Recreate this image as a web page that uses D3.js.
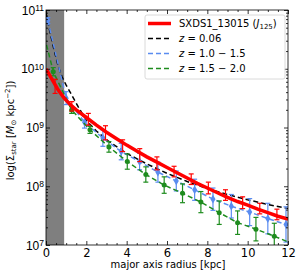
<!DOCTYPE html>
<html><head><meta charset="utf-8">
<script src="https://cdn.jsdelivr.net/npm/d3@7"></script>
<style>
body{margin:0;background:#fff;}
svg{font-family:"DejaVu Sans",sans-serif;}
</style></head>
<body><svg id="c" width="302" height="276"></svg>
<script>
// ---- data (log10 Sigma_star) ----
const xTicks = [0,2,4,6,8,10,12];
const yTickExps = [7,8,9,10,11];
const maskR = 0.9;

const redModelR = [0,0.3,0.6,0.9,1.2,1.5,2.0,2.5,3.0,3.5,4.0,4.5,5.0,5.5,6.0,6.5,7.0,7.5,8.0,8.5,9.0,9.5,10,10.5,11,11.5,12];
const redModelV = [10.0,9.82,9.64,9.50,9.39,9.30,9.17,9.04,8.92,8.81,8.70,8.60,8.50,8.41,8.32,8.23,8.14,8.05,7.97,7.89,7.81,7.74,7.68,7.61,7.55,7.49,7.44];

const redR   = [0.45,1.28,2.1,2.95,3.8,4.65,5.5,6.35,7.2,8.05,8.9,9.75,10.6,11.45];
const redV   = [9.70,9.36,9.14,8.91,8.69,8.53,8.39,8.25,8.12,7.97,7.85,7.72,7.62,7.52];
const redErr = [0.12,0.08,0.10,0.12,0.10,0.11,0.11,0.09,0.09,0.10,0.09,0.10,0.09,0.09];

const blackR = [0,0.2,0.4,0.6,0.8,1.0,1.25,1.6,2.0,2.5,3.0,4.0,5.0,6.0,7.0,8.0,9.0,10,11,12];
const blackV = [10.95,10.62,10.32,10.05,9.86,9.72,9.57,9.35,9.12,8.94,8.79,8.56,8.38,8.22,8.08,7.96,7.86,7.77,7.69,7.62];

const blueR   = [0.09,1.0,1.91,2.82,3.73,4.64,5.55,6.46,7.37,8.28,9.19,10.1,11.0,11.9,12.3];
const blueV   = [10.82,9.50,9.09,8.82,8.59,8.42,8.24,8.09,7.94,7.78,7.66,7.56,7.45,7.35,7.30];
const blueErr = [0.05,0.11,0.10,0.14,0.14,0.14,0.17,0.17,0.18,0.19,0.20,0.23,0.26,0.30,0.30];

const greenR   = [-0.55,0.36,1.27,2.18,3.12,4.03,4.95,5.86,6.77,7.68,8.59,9.50,10.41,11.32,12.23];
const greenV   = [11.2,9.95,9.30,8.96,8.67,8.42,8.20,8.02,7.88,7.73,7.55,7.38,7.27,7.15,7.02];
const greenErr = [0.07,0.07,0.06,0.06,0.09,0.13,0.13,0.14,0.16,0.18,0.20,0.20,0.20,0.22,0.22];

const legendLabels = ["SXDS1_13015", "z = 0.06", "z = 1.0 \u2212 1.5", "z = 1.5 \u2212 2.0"];
const colors = {red:"#ff0000", black:"#000000", blue:"#5a8cf0", green:"#1e8c1e"};

// ---- layout ----
const L=46, R=288, T=10, B=245;
const svg = d3.select("#c");
const x = d3.scaleLinear().domain([0,12]).range([L,R]);
const y = d3.scaleLog().domain([1e7,1e11]).range([B,T]);
const Y = v => y(Math.pow(10,v));

svg.append("defs").append("clipPath").attr("id","clip")
  .append("rect").attr("x",L).attr("y",T).attr("width",R-L).attr("height",B-T);
const plot = svg.append("g").attr("clip-path","url(#clip)");

// mask
plot.append("rect").attr("x",x(0)).attr("y",T).attr("width",x(maskR)-x(0)).attr("height",B-T)
  .attr("fill","#7f7f7f");

const line = d3.line().x(d=>x(d[0])).y(d=>Y(d[1]));
function series(R_,V_,color,width,dash){
  plot.append("path").datum(R_.map((r,i)=>[r,V_[i]]))
    .attr("d",line).attr("fill","none").attr("stroke",color)
    .attr("stroke-width",width).attr("stroke-dasharray",dash||null);
}
function errbars(R_,V_,E_,color){
  const g = plot.append("g").attr("stroke",color).attr("stroke-width",1.2);
  R_.forEach((r,i)=>{
    const xx=x(r), y1=Y(V_[i]+E_[i]), y2=Y(V_[i]-E_[i]);
    g.append("line").attr("x1",xx).attr("x2",xx).attr("y1",y1).attr("y2",y2);
    g.append("line").attr("x1",xx-2.5).attr("x2",xx+2.5).attr("y1",y1).attr("y2",y1);
    g.append("line").attr("x1",xx-2.5).attr("x2",xx+2.5).attr("y1",y2).attr("y2",y2);
  });
}

// black model
series(blackR,blackV,colors.black,1.5,"5,3");
// blue
errbars(blueR,blueV,blueErr,colors.blue);
series(blueR,blueV,colors.blue,1.5,"5,3");
plot.append("g").selectAll("path").data(blueR.map((r,i)=>[r,blueV[i]])).join("path")
  .attr("d",d3.symbol(d3.symbolDiamond,22)).attr("transform",d=>`translate(${x(d[0])},${Y(d[1])})`)
  .attr("fill",colors.blue);
// green
errbars(greenR,greenV,greenErr,colors.green);
series(greenR,greenV,colors.green,1.5,"5,3");
plot.append("g").selectAll("circle").data(greenR.map((r,i)=>[r,greenV[i]])).join("circle")
  .attr("cx",d=>x(d[0])).attr("cy",d=>Y(d[1])).attr("r",2.5).attr("fill",colors.green);
// red
series(redModelR,redModelV,colors.red,3.5,null);
errbars(redR,redV,redErr,colors.red);

// ---- axes ----
const xMinor = d3.range(0,12.01,0.5).filter(v=>v%2!==0);
const yMinor = [];
for(let e=7;e<11;e++) for(let k=2;k<10;k++) yMinor.push(k*Math.pow(10,e));
const yMajor = yTickExps.map(e=>Math.pow(10,e));

function style(g){ g.select(".domain").remove(); g.selectAll("line").attr("stroke","#000").attr("stroke-width",0.8); }

svg.append("g").attr("transform",`translate(0,${B})`)
  .call(d3.axisBottom(x).tickValues(xTicks).tickSize(-4).tickPadding(4).tickFormat(d3.format("d")))
  .call(style).call(g=>g.selectAll("text").attr("font-size",11.5).attr("fill","#000").attr("font-family","DejaVu Sans"));
svg.append("g").attr("transform",`translate(0,${B})`)
  .call(d3.axisBottom(x).tickValues(xMinor).tickSize(-2).tickFormat("")).call(style);
svg.append("g").attr("transform",`translate(0,${T})`)
  .call(d3.axisTop(x).tickValues(xTicks).tickSize(-4).tickFormat("")).call(style);
svg.append("g").attr("transform",`translate(0,${T})`)
  .call(d3.axisTop(x).tickValues(xMinor).tickSize(-2).tickFormat("")).call(style);

svg.append("g").attr("transform",`translate(${L},0)`)
  .call(d3.axisLeft(y).tickValues(yMajor).tickSize(-4).tickPadding(3).tickFormat(""))
  .call(style)
  .call(g=>g.selectAll(".tick").append("text")
     .attr("x",-2).attr("dy","0.35em").attr("text-anchor","end").attr("font-size",12).attr("fill","#000")
     .each(function(d){
        const t=d3.select(this); const e=Math.round(Math.log10(d));
        t.append("tspan").text("10");
        t.append("tspan").attr("dy","-0.45em").attr("font-size",8.5).text(e);
     }));
svg.append("g").attr("transform",`translate(${L},0)`)
  .call(d3.axisLeft(y).tickValues(yMinor).tickSize(-2).tickFormat("")).call(style);
svg.append("g").attr("transform",`translate(${R},0)`)
  .call(d3.axisRight(y).tickValues(yMajor).tickSize(-4).tickFormat("")).call(style);
svg.append("g").attr("transform",`translate(${R},0)`)
  .call(d3.axisRight(y).tickValues(yMinor).tickSize(-2).tickFormat("")).call(style);

svg.append("rect").attr("x",L).attr("y",T).attr("width",R-L).attr("height",B-T)
  .attr("fill","none").attr("stroke","#000").attr("stroke-width",0.8);

// axis labels
svg.append("text").attr("x",(L+R)/2 + 1).attr("y",268).attr("text-anchor","middle")
  .attr("font-size",10).text("major axis radius [kpc]");
const yl = svg.append("text").attr("transform",`translate(14,${(T+B)/2 + 3}) rotate(-90)`)
  .attr("text-anchor","middle").attr("font-size",10);
yl.append("tspan").text("log(\u03A3");
yl.append("tspan").attr("font-size",7).attr("dy","2").text("star");
yl.append("tspan").attr("dy","-2").text(" [");
yl.append("tspan").attr("font-style","italic").text("M");
yl.append("tspan").attr("font-size",7).attr("dy","2").text("\u2299");
yl.append("tspan").attr("dy","-2").text(" kpc");
yl.append("tspan").attr("font-size",7).attr("dy","-4").text("\u22122");
yl.append("tspan").attr("dy","4").text("])");

// legend
const lg = svg.append("g");
lg.append("rect").attr("x",145).attr("y",15).attr("width",140).attr("height",64).attr("rx",2)
  .attr("fill","#fff").attr("fill-opacity",0.85).attr("stroke","#d0d0d0").attr("stroke-width",0.8);
const rows=[{c:colors.red,w:3.5,d:null},{c:colors.black,w:1.5,d:"5,3"},{c:colors.blue,w:1.5,d:"5,3"},{c:colors.green,w:1.5,d:"5,3"}];
const rowY=[23.5,38.5,53.5,68.5];
rows.forEach((r,i)=>{
  lg.append("line").attr("x1",148).attr("x2",171).attr("y1",rowY[i]).attr("y2",rowY[i])
    .attr("stroke",r.c).attr("stroke-width",r.w).attr("stroke-dasharray",r.d);
  const t = lg.append("text").attr("x",179).attr("y",rowY[i]).attr("dy","0.35em").attr("font-size",10);
  if(i===0){
    t.append("tspan").text(legendLabels[0]+" (");
    t.append("tspan").attr("font-style","italic").text("J");
    t.append("tspan").attr("font-size",7).attr("dy","2").text("125");
    t.append("tspan").attr("dy","-2").text(")");
  } else {
    const parts = legendLabels[i].split(" = ");
    t.append("tspan").attr("font-style","italic").text("z");
    t.append("tspan").text(" = "+parts[1]);
  }
});
</script></body></html>
